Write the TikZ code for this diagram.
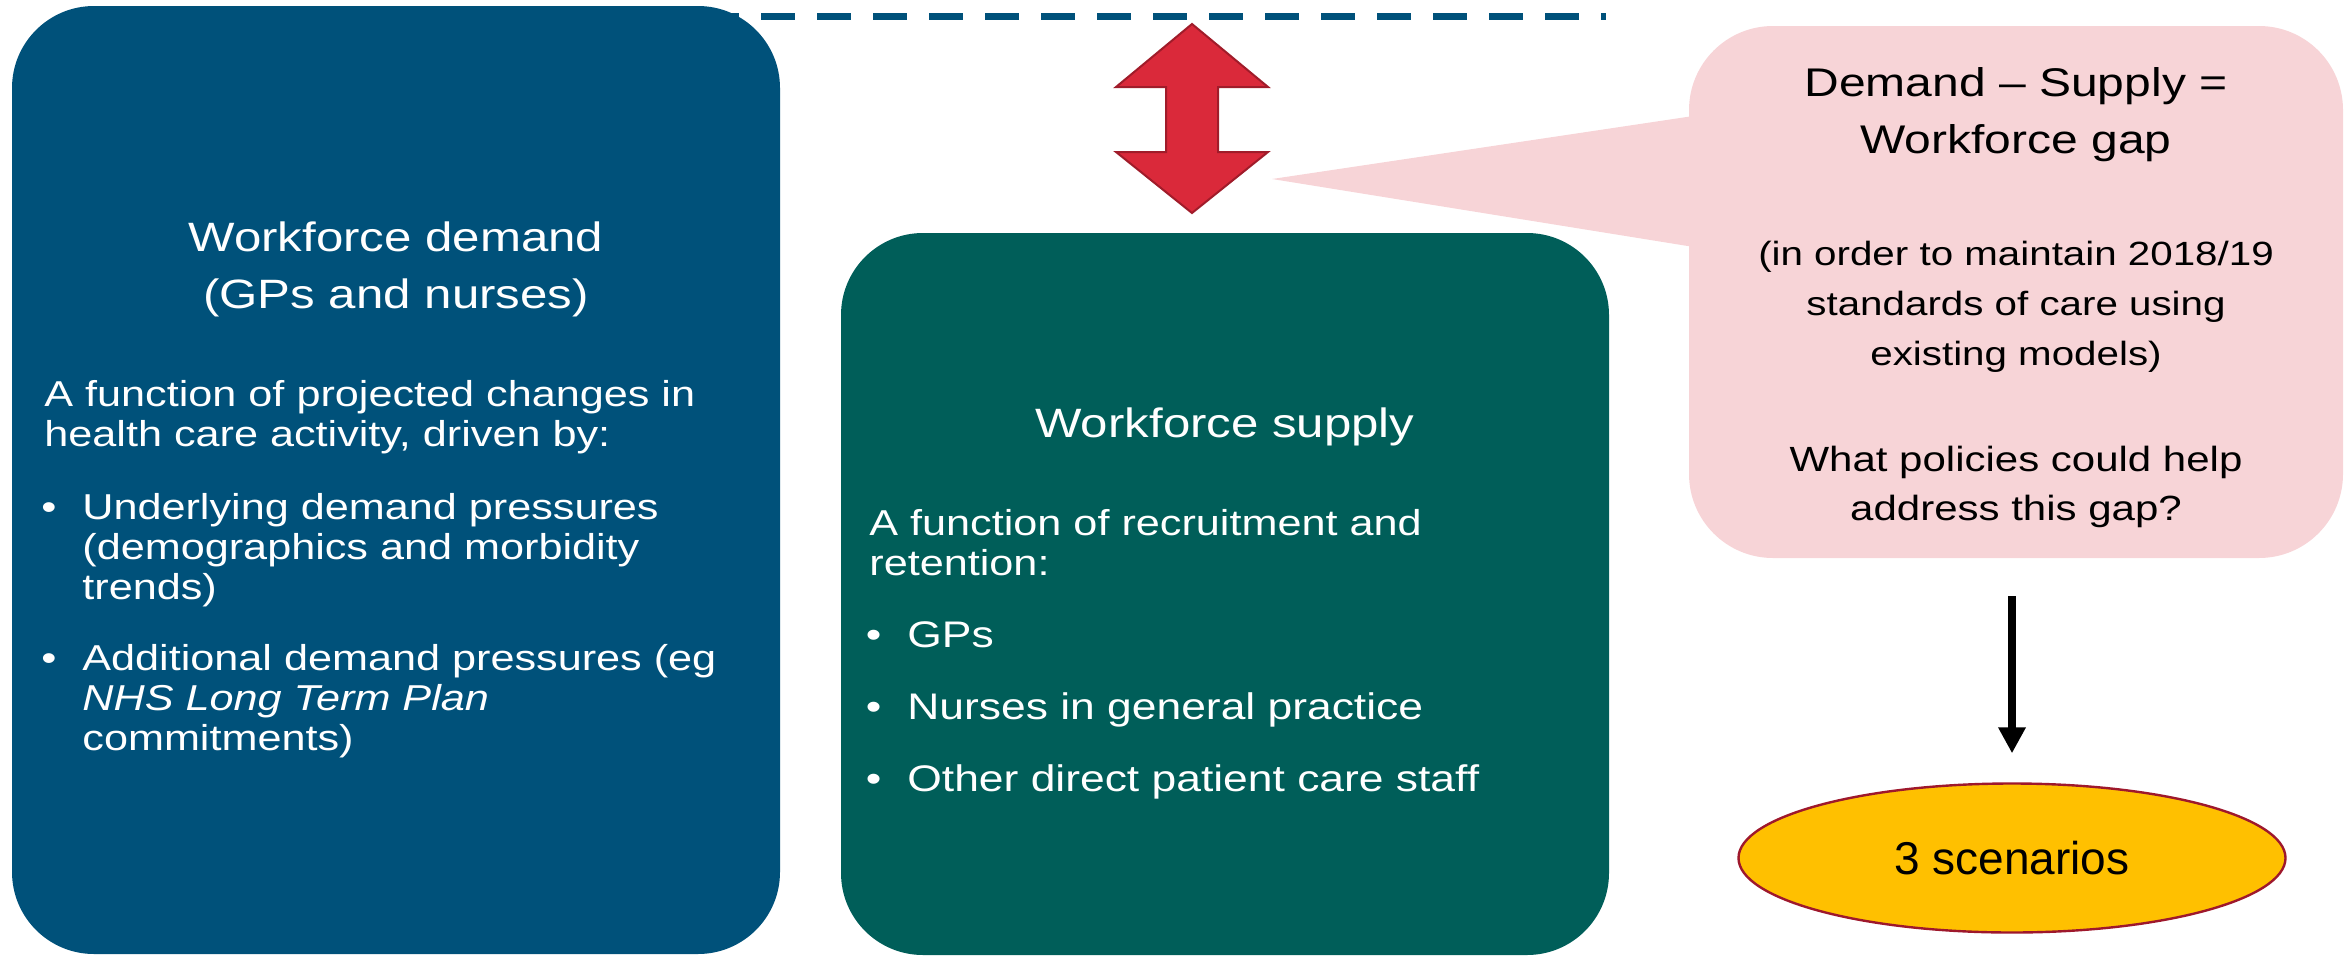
\documentclass[tikz,border=0pt]{standalone}
\usepackage{fontspec}
\setmainfont{Liberation Sans}
\newfontfamily\widefont[FakeStretch=1.2]{Liberation Sans}
\usepackage{tikz}
\usetikzlibrary{arrows.meta,shapes.geometric,positioning}

\definecolor{demandblue}{RGB}{0,81,122}
\definecolor{supplygreen}{RGB}{0,94,89}
\definecolor{gappink}{RGB}{247,212,215}
\definecolor{arrowred}{RGB}{218,41,58}
\definecolor{arrowdark}{RGB}{160,28,42}
\definecolor{scenyellow}{RGB}{255,192,0}
\definecolor{scenborder}{RGB}{158,24,44}

\newcommand{\itembul}{\leavevmode\llap{\textbullet\hspace{13pt}}}

\tikzset{
	bigbox/.style={rectangle, rounded corners=41pt, inner sep=0pt},
	titletext/.style={font=\widefont\fontsize{20.5}{28.5}\selectfont, text=white, align=center, text width=370pt, inner sep=0pt, anchor=base},
	bodytext/.style={font=\widefont\fontsize{18}{20}\selectfont, text=white, align=left, text width=350pt, inner sep=0pt, anchor=base west},
	gaptext/.style={font=\widefont\fontsize{16.8}{25}\selectfont, align=center, text width=320pt, inner sep=0pt, anchor=base},
}

\begin{document}
\begin{tikzpicture}[x=0.5pt, y=-0.5pt]
			\useasboundingbox (0,0) rectangle (2346,959);

			% dashed link along the top
			\coordinate (dashstart) at (705,16);
			\coordinate (dashend) at (1606,16);
			\draw [demandblue, line width=3.5pt, dash pattern=on 17pt off 11pt] (dashstart) to (dashend);

			% demand box
			\node[bigbox, fill=demandblue, minimum width=384pt, minimum height=474pt] (demand) at (396,480) {};
			\node[titletext] (demtitle) at (396,251) {Workforce demand\\(GPs and nurses)};
			\node[bodytext] (dembody) at (44,406) {A function of projected changes in\\health care activity, driven by:};
			\node[bodytext] (dempress) at (82,519) {\itembul Underlying demand pressures\\(demographics and morbidity\\trends)};
			\node[bodytext] (demextra) at (82,670) {\itembul Additional demand pressures (eg\\\textit{NHS Long Term Plan}\\commitments)};

			% supply box
			\node[bigbox, fill=supplygreen, minimum width=384pt, minimum height=361pt] (supply) at (1225,594) {};
			\node[titletext] (suptitle) at (1225,437) {Workforce supply};
			\node[bodytext] (supbody) at (869,535) {A function of recruitment and\\retention:};
			\node[bodytext, font=\widefont\fontsize{18.5}{36}\selectfont] (supstaff) at (907,647) {\itembul GPs\\\itembul Nurses in general practice\\\itembul Other direct patient care staff};

			% red double arrow
			\draw [fill=arrowred, draw=arrowdark, line width=1pt] (1192,24) -- (1268,87) -- (1218,87) -- (1218,152) -- (1268,152) -- (1192,213) -- (1116,152) -- (1166,152) -- (1166,87) -- (1116,87) -- cycle;

			% gap callout
			\node[bigbox, rounded corners=42pt, fill=gappink, minimum width=327pt, minimum height=266pt] (gap) at (2016,292) {};
			\coordinate (gaptip) at (1272,179);
			\fill [gappink] (gaptip) -- (1700,115) -- (1700,248) -- cycle;
			\node[gaptext, font=\widefont\fontsize{20}{28.5}\selectfont] (gaptitle) at (2016,96) {Demand – Supply =\\Workforce gap};
			\node[gaptext] (gapnote) at (2016,265) {(in order to maintain 2018/19\\standards of care using\\existing models)};
			\node[gaptext, font=\widefont\fontsize{17.5}{24.5}\selectfont] (gapask) at (2016,471) {What policies could help\\address this gap?};

			% scenarios
			\node[ellipse, fill=scenyellow, draw=scenborder, line width=1.2pt, minimum width=273.5pt, minimum height=74.5pt, inner sep=0pt, font=\fontsize{23}{28}\selectfont] (scen) at (2012,858) {3 scenarios};
			\draw [-{Triangle[width=13pt,length=13pt]}, line width=4pt, shorten <=19pt, shorten >=14.5pt] (gap.south -| scen.north) to (scen.north);
		\end{tikzpicture}
\end{document}
